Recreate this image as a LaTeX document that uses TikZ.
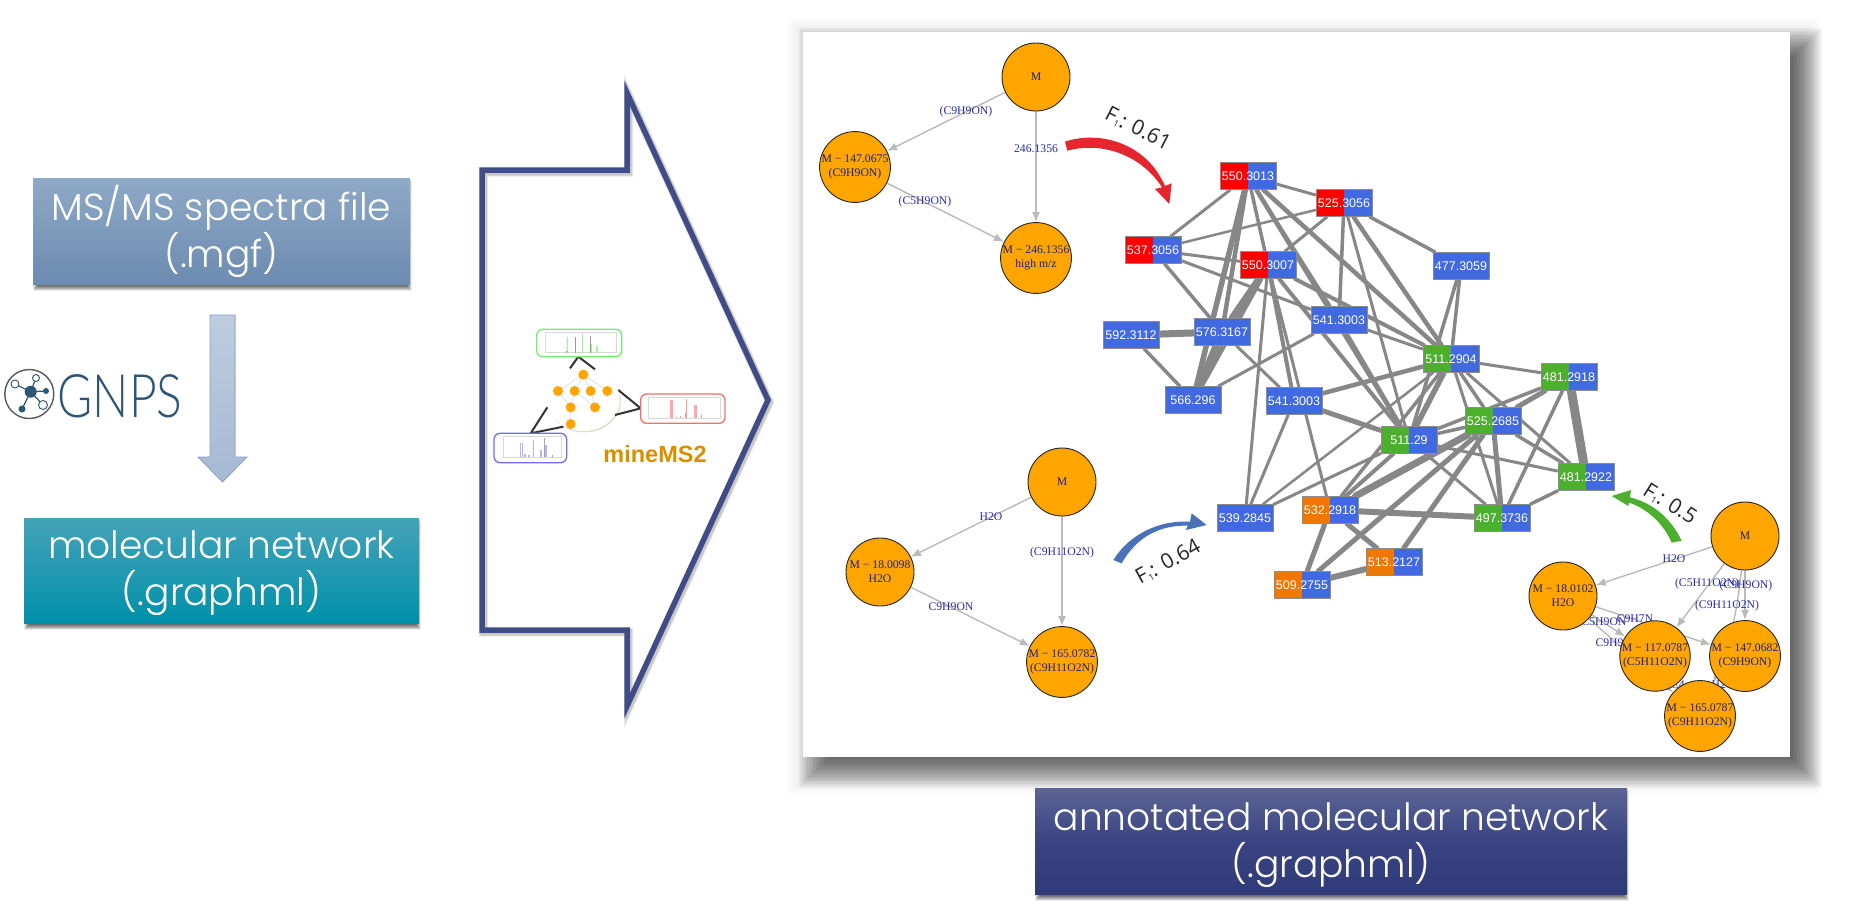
\documentclass[tikz,border=0pt]{standalone}
\usepackage{fontspec}
\usetikzlibrary{arrows.meta,shapes.geometric}
\setmainfont{Liberation Sans}
\newfontfamily\poppl{Poppins Light}
\newfontfamily\lserif{Liberation Serif}
\newfontfamily\lsans{Liberation Sans}
\newfontfamily\opensans{Open Sans}
\newfontfamily\latof{Lato Light}
\pgfdeclarelayer{back}\pgfdeclarelayer{edges}
\pgfsetlayers{back,edges,main}
\definecolor{navyt}{HTML}{1F1F8A}
\definecolor{labt}{HTML}{2A2AA8}
\definecolor{orgn}{HTML}{FFA500}
\definecolor{netred}{HTML}{FF0000}
\definecolor{netgreen}{HTML}{4DAF2E}
\definecolor{netorange}{HTML}{F07800}
\definecolor{netblue}{HTML}{4169E1}
\definecolor{bigblue}{HTML}{3F4C85}
\definecolor{gnpsc}{HTML}{2C5577}
\definecolor{rimtan}{RGB}{226,219,198}
\tikzset{
  titlebox/.style={rectangle,inner sep=0pt},
  titletext/.style={inner sep=0pt,text=white,align=center,font=\poppl\fontsize{37.6}{47}\selectfont},
  specie/.style={circle,draw=black!85,line width=.9pt,fill=orgn,minimum size=68pt,inner sep=0pt,align=center,text=navyt,font=\lserif\fontsize{11.7}{14}\selectfont},
  lossedge/.style={draw=black!27,line width=1.4pt,-{Latex[length=10pt,width=8pt]}},
  losslab/.style={inner sep=0pt,text=labt,font=\lserif\fontsize{11.7}{14}\selectfont},
  netnode/.style={rectangle,draw=black!45,line width=.9pt,fill=netblue,minimum width=56pt,minimum height=27pt,inner sep=0pt,text=white,font=\lsans\fontsize{12.5}{14}\selectfont},
  halffill/.style={path picture={\fill[#1] (path picture bounding box.south west) rectangle (path picture bounding box.north);}},
  netedge/.style={draw=black!47,line cap=round},
  fscore/.style={inner sep=0pt,text=black!85,font=\opensans\fontsize{21}{24}\selectfont},
  sparkbox/.style={rounded corners=6pt,line width=1.3pt,fill=white},
  miniorg/.style={circle,fill=orgn,minimum size=10pt,inner sep=0pt},
  miniedge/.style={draw=blue!35!black!25,line width=.25pt},
  spoke/.style={gnpsc,line width=1.2pt},
}
\newcommand{\softshadow}[6]{% x1 y1 x2 y2 blur opacity
  \foreach \bb in {0,...,23}{
    \pgfmathsetmacro{\ee}{#5*(1-\bb/11.5)}
    \fill[black,opacity=#6] (#1-\ee,#2-\ee) rectangle (#3+\ee,#4+\ee);
  }}
\newcommand{\fone}{F\raisebox{-2pt}{\fontsize{9}{9}\selectfont 1}}
\begin{document}
\begin{tikzpicture}[x=1pt,y=-1pt]
\useasboundingbox (0,0) rectangle (1855,922);
\begin{pgfonlayer}{back}
\fill[white] (0,0) rectangle (1855,922);
% soft shadows
\softshadow{796}{26}{1812}{786}{9}{0.003}
\softshadow{815}{44}{1806}{772}{16}{0.03}
\softshadow{36}{183}{409}{288}{3}{0.035}
\softshadow{27}{523}{418}{627}{3}{0.035}
\softshadow{1038}{793}{1626}{898}{3}{0.035}
\foreach \ww in {9,7.5,6}{
  \draw[black,opacity=.08,line width=\ww pt,miter limit=10] (483.5,172) -- (628.5,172) -- (628.5,95) -- (769.5,402) -- (628.5,708) -- (628.5,632) -- (483.5,632) -- cycle;
}
\end{pgfonlayer}

% left column
\node[titlebox,minimum width=377pt,minimum height=106pt,top color={rgb,255:red,143;green,169;blue,198},bottom color={rgb,255:red,108;green,139;blue,176}] (mgf) at (221.5,231) {};
\node[titletext] (mgft) at (221.5,231) {MS/MS spectra file\\(.mgf)};
\node[titlebox,minimum width=395pt,minimum height=105pt,top color={rgb,255:red,69;green,163;blue,184},bottom color={rgb,255:red,0;green,144;blue,170}] (molnet) at (221.5,570.5) {};
\node[titletext] (molnett) at (221.5,573.5) {molecular network\\(.graphml)};
\fill[top color={rgb,255:red,190;green,204;blue,222},bottom color={rgb,255:red,166;green,185;blue,211},draw={rgb,255:red,138;green,163;blue,196},line width=.7pt] (210,315) -- (235,315) -- (235,457) -- (247,457) -- (222.5,482) -- (198,457) -- (210,457) -- cycle;
\coordinate (gnpsring) at (29.3,394);
\draw[black!65,line width=1.4pt] (gnpsring) circle (24.5);
\coordinate (hub) at (30.7,391.7);
\draw[spoke] (hub) -- (15,384) (hub) -- (36,378) (hub) -- (46,391) (hub) -- (43,405) (hub) -- (22,409);
\fill[gnpsc] (hub) circle (6);
\fill[gnpsc] (46,391) circle (3);
\fill[gnpsc] (22,409) circle (3.5);
\draw[gnpsc,line width=.9pt,fill=white] (15,384) circle (4) (36,378) circle (3.5) (43,405) circle (4.5);
\node[inner sep=0pt,text=gnpsc,xscale=.8,font=\latof\fontsize{60}{60}\selectfont] (gnps) at (120,396) {GNPS};

% big arrow
\draw[bigblue,line width=5.5pt,miter limit=10] (482,170) -- (627,170) -- (627,93) -- (768,400) -- (627,706) -- (627,630) -- (482,630) -- cycle;

% mineMS2 inset
\begin{scope}[shift={(470,300)},scale=1/3]
  \fill[rimtan] (343,302) ellipse (110 and 95);
  \fill[white] (340,298) ellipse (110 and 95);
  \draw[black!80,line width=2pt] (300,205) -- (325,170) -- (375,208);
  \draw[black!80,line width=2pt] (445,270) -- (512,325) -- (435,345);
  \draw[black!80,line width=2pt] (232,322) -- (182,400) -- (280,380);
  \draw[miniedge] (340,224) -- (264,273) (340,224) -- (314,273) (340,224) -- (362,273) (340,224) -- (412,273) (314,273) -- (302,322) (314,273) -- (375,322) (362,273) -- (375,322) (264,273) -- (302,322) (302,322) -- (302,372);
  \node[miniorg] (ma) at (340,224) {};
  \node[miniorg] (mb) at (264,273) {};
  \node[miniorg] (mc) at (314,273) {};
  \node[miniorg] (md) at (362,273) {};
  \node[miniorg] (me) at (412,273) {};
  \node[miniorg] (mf) at (302,322) {};
  \node[miniorg] (mg) at (375,322) {};
  \node[miniorg] (mh) at (302,372) {};
  % green spectrum
  \draw[sparkbox,draw={rgb,255:red,110;green,240;blue,110}] (200,88) rectangle (455,170);
  \draw[black!15,line width=.8pt] (225,97) rectangle (440,158);
  \draw[green!45,line width=1.2pt] (292,158) -- (292,112) (337,158) -- (337,100) (365,158) -- (365,132);
  \draw[green!40,line width=1.5pt] (381,158) -- (381,137);
  \draw[black!40,line width=.7pt] (317,158) -- (317,112) (362,158) -- (362,107) (289,158) -- (289,152);
  % red spectrum
  \draw[sparkbox,draw={rgb,255:red,245;green,110;blue,110}] (512,282) rectangle (765,370);
  \draw[black!15,line width=.8pt] (535,293) rectangle (750,355);
  \draw[red!35,line width=2.4pt] (605,355) -- (605,300) (677,355) -- (677,315);
  \draw[red!40,line width=1pt] (620,355) -- (620,350) (632,355) -- (632,348) (648,355) -- (648,298) (645,355) -- (645,340) (695,355) -- (695,345);
  % blue spectrum
  \draw[sparkbox,draw={rgb,255:red,110;green,110;blue,245}] (72,400) rectangle (290,488);
  \draw[black!15,line width=.8pt] (100,410) rectangle (275,472);
  \draw[blue!30,line width=1.1pt] (152,472) -- (152,430) (157,472) -- (157,430) (165,472) -- (165,462) (177,472) -- (177,465) (190,472) -- (190,420) (213,472) -- (213,450) (228,472) -- (228,435);
  \draw[black!35,line width=.7pt] (222,472) -- (222,415) (248,472) -- (248,466);
  \node[inner sep=0pt,text={rgb,255:red,217;green,143;blue,0},font=\lsans\bfseries\fontsize{23.5}{24}\selectfont] (minems) at (555,462) {mineMS2};
\end{scope}

% fragmentation graph top left
\node[specie] (ta) at (1036,77) {M};
\node[specie] (tb) at (855,167) {M − 147.0675\\(C9H9ON)};
\node[specie] (tc) at (1036,258) {M − 246.1356\\high m/z};
\begin{pgfonlayer}{edges}
\fill[white] (803,32) rectangle (1790,757);
\draw[lossedge] (ta) -- (tb);
\draw[lossedge] (ta) -- (tc);
\draw[lossedge] (tb) -- (tc);
\node[losslab] (tl1) at (966,112) {(C9H9ON)};
\node[losslab] (tl2) at (1036,149) {246.1356};
\node[losslab] (tl3) at (925,202) {(C5H9ON)};
\end{pgfonlayer}

% fragmentation graph bottom left
\node[specie] (ua) at (1062,482) {M};
\node[specie] (ub) at (880,572) {M − 18.0098\\H2O};
\node[specie] (uc) at (1062,662) {M − 165.0782\\(C9H11O2N)};
\begin{pgfonlayer}{edges}
\draw[lossedge] (ua) -- (ub);
\draw[lossedge] (ua) -- (uc);
\draw[lossedge] (ub) -- (uc);
\node[losslab] (ul1) at (991,517) {H2O};
\node[losslab] (ul2) at (1062,553) {(C9H11O2N)};
\node[losslab] (ul3) at (951,607) {C9H9ON};
\end{pgfonlayer}

% fragmentation graph bottom right
\node[specie] (va) at (1745,536) {M};
\node[specie] (vb) at (1563,596) {M − 18.0102\\H2O};
\node[specie] (vc) at (1655,656) {M − 117.0787\\(C5H11O2N)};
\node[specie] (vd) at (1745,656) {M − 147.0682\\(C9H9ON)};
\node[specie] (ve) at (1700,716) {M − 165.0787\\(C9H11O2N)};
\begin{pgfonlayer}{edges}
\draw[lossedge] (va) -- (vb);
\draw[lossedge] (va) -- (vc);
\draw[lossedge] (va) -- (vd);
\draw[lossedge] (va) to[bend left=8] (ve);
\draw[lossedge] (vb) -- (vc);
\draw[lossedge] (vb) -- (vd);
\draw[lossedge] (vb) -- (ve);
\draw[lossedge] (vc) -- (ve);
\draw[lossedge] (vd) -- (ve);
\node[losslab] (vl1) at (1674,559) {H2O};
\node[losslab] (vl2) at (1707,584) {(C5H11O2N)};
\node[losslab] (vl3) at (1746,586) {(C9H9ON)};
\node[losslab] (vl4) at (1727,606) {(C9H11O2N)};
\node[losslab] (vl5) at (1604,622) {C5H9ON};
\node[losslab] (vl6) at (1635,619) {C9H7N};
\node[losslab] (vl7) at (1618,643) {C9H9ON};
\node[losslab] (vl8) at (1678,685) {C4};
\node[losslab] (vl9) at (1723,685) {H2O};
\end{pgfonlayer}

% molecular network
\node[netnode,halffill=netred] (a) at (1248,176) {550.3013};
\node[netnode,halffill=netred] (b) at (1344,203) {525.3056};
\node[netnode,halffill=netred] (c) at (1153,250) {537.3056};
\node[netnode,halffill=netred] (d) at (1268,265) {550.3007};
\node[netnode] (e) at (1461,266) {477.3059};
\node[netnode] (f) at (1339,320) {541.3003};
\node[netnode] (g) at (1131,335) {592.3112};
\node[netnode] (h) at (1222,332) {576.3167};
\node[netnode] (i) at (1193,400) {566.296};
\node[netnode] (j) at (1294,401) {541.3003};
\node[netnode,halffill=netgreen] (k) at (1451,359) {511.2904};
\node[netnode,halffill=netgreen] (l) at (1569,377) {481.2918};
\node[netnode,halffill=netgreen] (m) at (1493,421) {525.2685};
\node[netnode,halffill=netgreen] (n) at (1409,440) {511.29};
\node[netnode,halffill=netgreen] (o) at (1586,477) {481.2922};
\node[netnode,halffill=netgreen] (p) at (1502,518) {497.3736};
\node[netnode] (q) at (1245,518) {539.2845};
\node[netnode,halffill=netorange] (r) at (1330,510) {532.2918};
\node[netnode,halffill=netorange] (s) at (1394,562) {513.2127};
\node[netnode,halffill=netorange] (t) at (1302,585) {509.2755};
\begin{pgfonlayer}{edges}
\foreach \aa/\bb/\wd in {a/b/3,a/c/3,a/h/4.5,a/i/5.5,a/d/3.5,a/n/4.5,a/k/4.5,a/f/3,
  b/c/2.5,b/d/3,b/f/3.5,b/n/3,b/k/4.5,b/e/3.5,
  c/d/3,c/h/3.5,c/f/3,
  d/h/6,d/i/6,d/q/3,d/j/4,d/r/3,d/n/4,d/k/4,
  f/k/3,f/i/3,f/n/3.5,
  g/h/7,h/i/7,h/j/3,g/i/3.5,
  j/k/4.5,j/n/5,j/q/3,
  e/k/3.5,e/n/3.5,
  k/l/3,k/m/3.5,k/o/3,k/p/3,k/n/5.5,k/q/2.5,k/r/3.5,
  n/q/3,n/r/4,m/n/3.5,m/r/7,m/t/5,m/s/5,m/p/5,
  m/o/3.5,l/m/5,l/n/3.5,l/o/9,l/p/3.5,
  n/o/3,n/p/3,o/p/3.5,
  r/p/6,r/s/5,r/t/5,t/s/6}{
  \draw[netedge,line width=\wd pt] (\aa) -- (\bb);
}
\end{pgfonlayer}

% F1 arrows
\begin{scope}[shift={(800,30)},scale=1/3]
  \fill[fill={rgb,255:red,229;green,38;blue,46}] (795,335) .. controls (900,300) and (1040,340) .. (1095,468) -- (1115,460) -- (1108,522) -- (1065,477) -- (1086,472) .. controls (1020,370) and (900,335) .. (802,362) -- cycle;
\end{scope}
\begin{scope}[shift={(810,430)},scale=1/3]
  \fill[fill={rgb,255:red,74;green,114;blue,184}] (910,390) .. controls (960,310) and (1050,270) .. (1140,275) -- (1145,250) -- (1190,285) -- (1128,300) -- (1133,287) .. controls (1050,285) and (980,320) .. (935,400) -- cycle;
\end{scope}
\begin{scope}[shift={(1500,480)},scale=1/3]
  \fill[fill=netgreen] (545,182) .. controls (510,110) and (455,68) .. (390,52) -- (393,30) -- (335,48) -- (385,78) -- (387,68) .. controls (440,85) and (490,130) .. (515,188) -- cycle;
\end{scope}
\node[fscore,rotate=-27] (fa) at (1138,129) {\fone: 0.61};
\node[fscore,rotate=29] (fb) at (1168,562) {\fone: 0.64};
\node[fscore,rotate=-32] (fc) at (1670,504) {\fone: 0.5};

% bottom box
\node[titlebox,minimum width=592pt,minimum height=106pt,top color={rgb,255:red,92;green,100;blue,148},bottom color={rgb,255:red,47;green,58;blue,120},middle color={rgb,255:red,58;green,68;blue,130}] (annot) at (1331,841) {};
\node[titletext] (annott) at (1331,845) {annotated molecular network\\(.graphml)};
\end{tikzpicture}
\end{document}
